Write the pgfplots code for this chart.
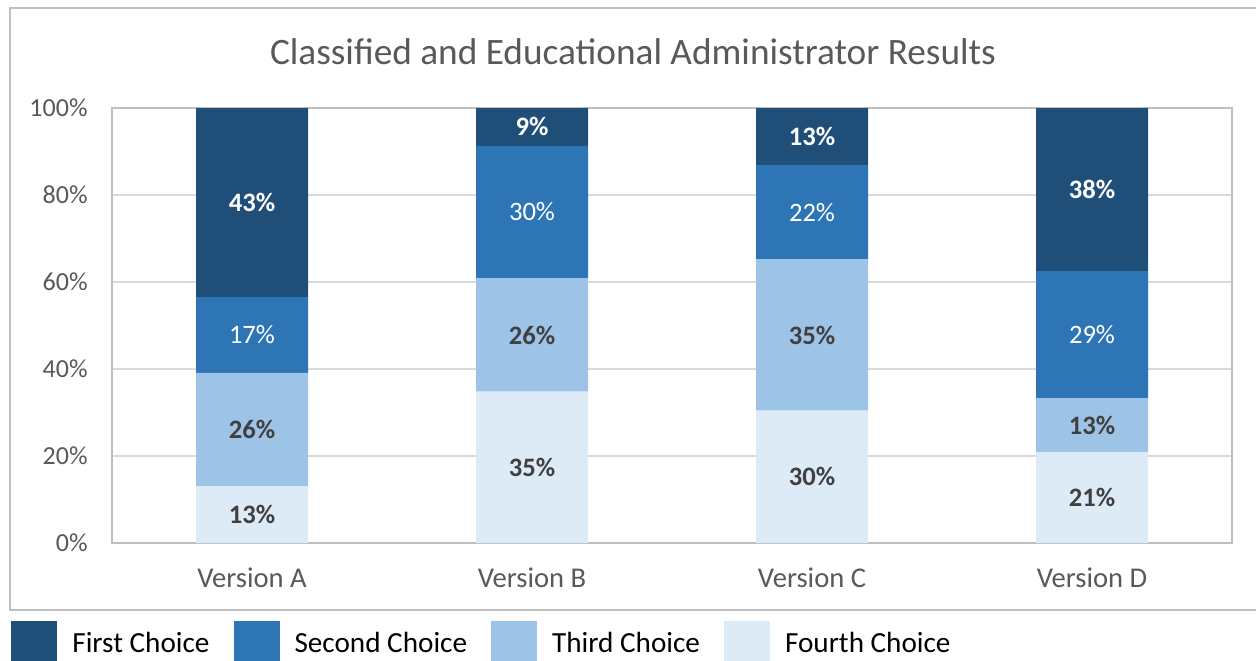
\documentclass[border=0pt]{standalone}
\usepackage{fontspec}
\setmainfont{Carlito}
\usepackage{pgfplots}
\usepackage{pgfplotstable}
\pgfplotsset{compat=1.18}
\definecolor{firstc}{HTML}{1F4E79}
\definecolor{secondc}{HTML}{2E75B6}
\definecolor{thirdc}{HTML}{9DC3E6}
\definecolor{fourthc}{HTML}{DDEBF7}
\definecolor{gridgray}{HTML}{D9D9D9}
\definecolor{framegray}{HTML}{BFBFBF}
\definecolor{textgray}{HTML}{595959}
\definecolor{labeldark}{HTML}{404040}

% shares per version (percent of respondents)
\pgfplotstableread{
x  first  second third fourth
0  43.48  17.39  26.09 13.04
1  8.70   30.43  26.09 34.78
2  13.04  21.74  34.78 30.43
3  37.50  29.17  12.50 20.83
}\results

\begin{document}
\begin{tikzpicture}
\draw[framegray,line width=1pt] (5pt,25pt) rectangle (631pt,326pt);
\node[anchor=base,font=\fontsize{18.65}{22}\selectfont,text=textgray] at (316.5pt,297.5pt)
  {Classified and Educational Administrator Results};
\begin{axis}[
at={(56pt,58.5pt)},anchor=south west,
width=560pt,height=217.5pt,scale only axis,
ybar stacked,bar width=56pt,
xmin=-0.5,xmax=3.5,ymin=0,ymax=100,
xtick={0,1,2,3},
xticklabels={Version A,Version B,Version C,Version D},
ytick={0,20,...,100},
yticklabel={\pgfmathprintnumber{\tick}\%},
/pgf/number format/assume math mode=true,
major tick length=0pt,
axis line style={draw=framegray,line width=0.8pt},
ymajorgrids,grid style={draw=gridgray,line width=0.8pt},
tick label style={font=\fontsize{13}{15}\selectfont,text=textgray},
yticklabel style={anchor=east,inner sep=0pt,xshift=-12pt},
xticklabel style={anchor=base,inner sep=0pt,yshift=-22pt,font=\fontsize{14.3}{16}\selectfont},
nodes near coords={\pgfmathprintnumber[fixed,precision=0]{\rawy}\%},
every node near coord/.append style={anchor=center,font=\fontsize{13.3}{15}\selectfont},
legend columns=-1,
reverse legend,
legend cell align=left,
legend image code/.code={\fill[#1] (0pt,-11.5pt) rectangle (23pt,11.5pt); \path (30.5pt,0pt);},
legend style={at={(-0.0902,-0.232)},anchor=west,draw=none,fill=none,inner sep=0pt,
  font=\fontsize{14.6}{17}\selectfont,column sep=0pt,nodes={inner sep=0pt},
  /tikz/every even column/.append style={column sep=12pt}},
]
\addplot[fill=fourthc,draw=none,visualization depends on={\thisrow{fourth} \as \rawy},
  every node near coord/.append style={text=labeldark,font=\fontsize{13.3}{15}\selectfont\bfseries}]
  table[x=x,y=fourth]{\results};
\addplot[fill=thirdc,draw=none,visualization depends on={\thisrow{third} \as \rawy},
  every node near coord/.append style={text=labeldark,font=\fontsize{13.3}{15}\selectfont\bfseries}]
  table[x=x,y=third]{\results};
\addplot[fill=secondc,draw=none,visualization depends on={\thisrow{second} \as \rawy},
  every node near coord/.append style={text=white}]
  table[x=x,y=second]{\results};
\addplot[fill=firstc,draw=none,visualization depends on={\thisrow{first} \as \rawy},
  every node near coord/.append style={text=white,font=\fontsize{13.3}{15}\selectfont\bfseries}]
  table[x=x,y=first]{\results};
\legend{Fourth Choice,Third Choice,Second Choice,First Choice}
\end{axis}
\pgfresetboundingbox
\useasboundingbox (0,0) rectangle (628pt,330pt);
\end{tikzpicture}
\end{document}
